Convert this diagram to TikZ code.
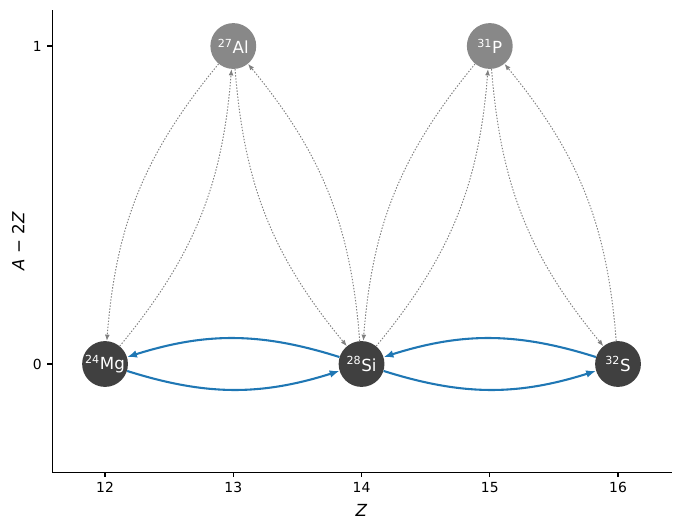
\documentclass[tikz,border=0pt]{standalone}
\usepackage{fontspec}
\setmainfont{DejaVu Sans}
\usetikzlibrary{arrows.meta}
\definecolor{nucdark}{HTML}{404040}
\definecolor{nuclight}{HTML}{888888}
\definecolor{flowblue}{HTML}{1F77B4}

\begin{document}
\begin{tikzpicture}[x=92.34pt, y=228.96pt,
        nuc/.style={circle, fill=#1, text=white, minimum size=33pt, inner sep=0pt, font=\fontsize{12}{14}\selectfont},
        flow/.style={flowblue, line width=1.5pt, -{Latex[length=7pt,width=5.5pt]}, bend right=17.5},
        side/.style={gray, line width=0.7pt, dash pattern=on 1pt off 1.2pt, -{Latex[length=4.5pt,width=3.5pt]}, bend right=17.5},
        ticklab/.style={inner sep=0pt, font=\fontsize{10}{12}\selectfont}]
        \useasboundingbox (11.181,-0.5189) rectangle (16.499,1.1447);

        % axes
        \draw[line width=0.8pt] (11.587,1.113) -- (11.587,-0.34) -- (16.42,-0.34);
        \foreach \z in {12,...,16}
            \draw[line width=0.8pt] (\z,-0.34) -- ++(0,-3.5pt) node[ticklab, anchor=north, yshift=-3.5pt] {\z};
        \foreach \a in {0,1}
            \draw[line width=0.8pt] (11.587,\a) -- ++(-3.5pt,0) node[ticklab, anchor=east, xshift=-3.5pt] {\a};
        \node[font=\fontsize{12}{14}\selectfont] (zlab) at (14,-0.459) {\textit{Z}};
        \node[font=\fontsize{12}{14}\selectfont, rotate=90] (alab) at (11.322,0.387) {\textit{A} − 2\textit{Z}};

        % nuclei
        \node[nuc=nucdark] (mg) at (12,0) {\textsuperscript{24}Mg};
        \node[nuc=nuclight] (al) at (13,1) {\textsuperscript{27}Al};
        \node[nuc=nucdark] (si) at (14,0) {\textsuperscript{28}Si};
        \node[nuc=nuclight] (p) at (15,1) {\textsuperscript{31}P};
        \node[nuc=nucdark] (s) at (16,0) {\textsuperscript{32}S};

        % links
        \draw[side] (mg) to (al);
        \draw[side] (al) to (mg);
        \draw[side] (al) to (si);
        \draw[side] (si) to (al);
        \draw[side] (si) to (p);
        \draw[side] (p) to (si);
        \draw[side] (p) to (s);
        \draw[side] (s) to (p);

        \draw[flow] (mg) to (si);
        \draw[flow] (si) to (mg);
        \draw[flow] (si) to (s);
        \draw[flow] (s) to (si);
\end{tikzpicture}
\end{document}
